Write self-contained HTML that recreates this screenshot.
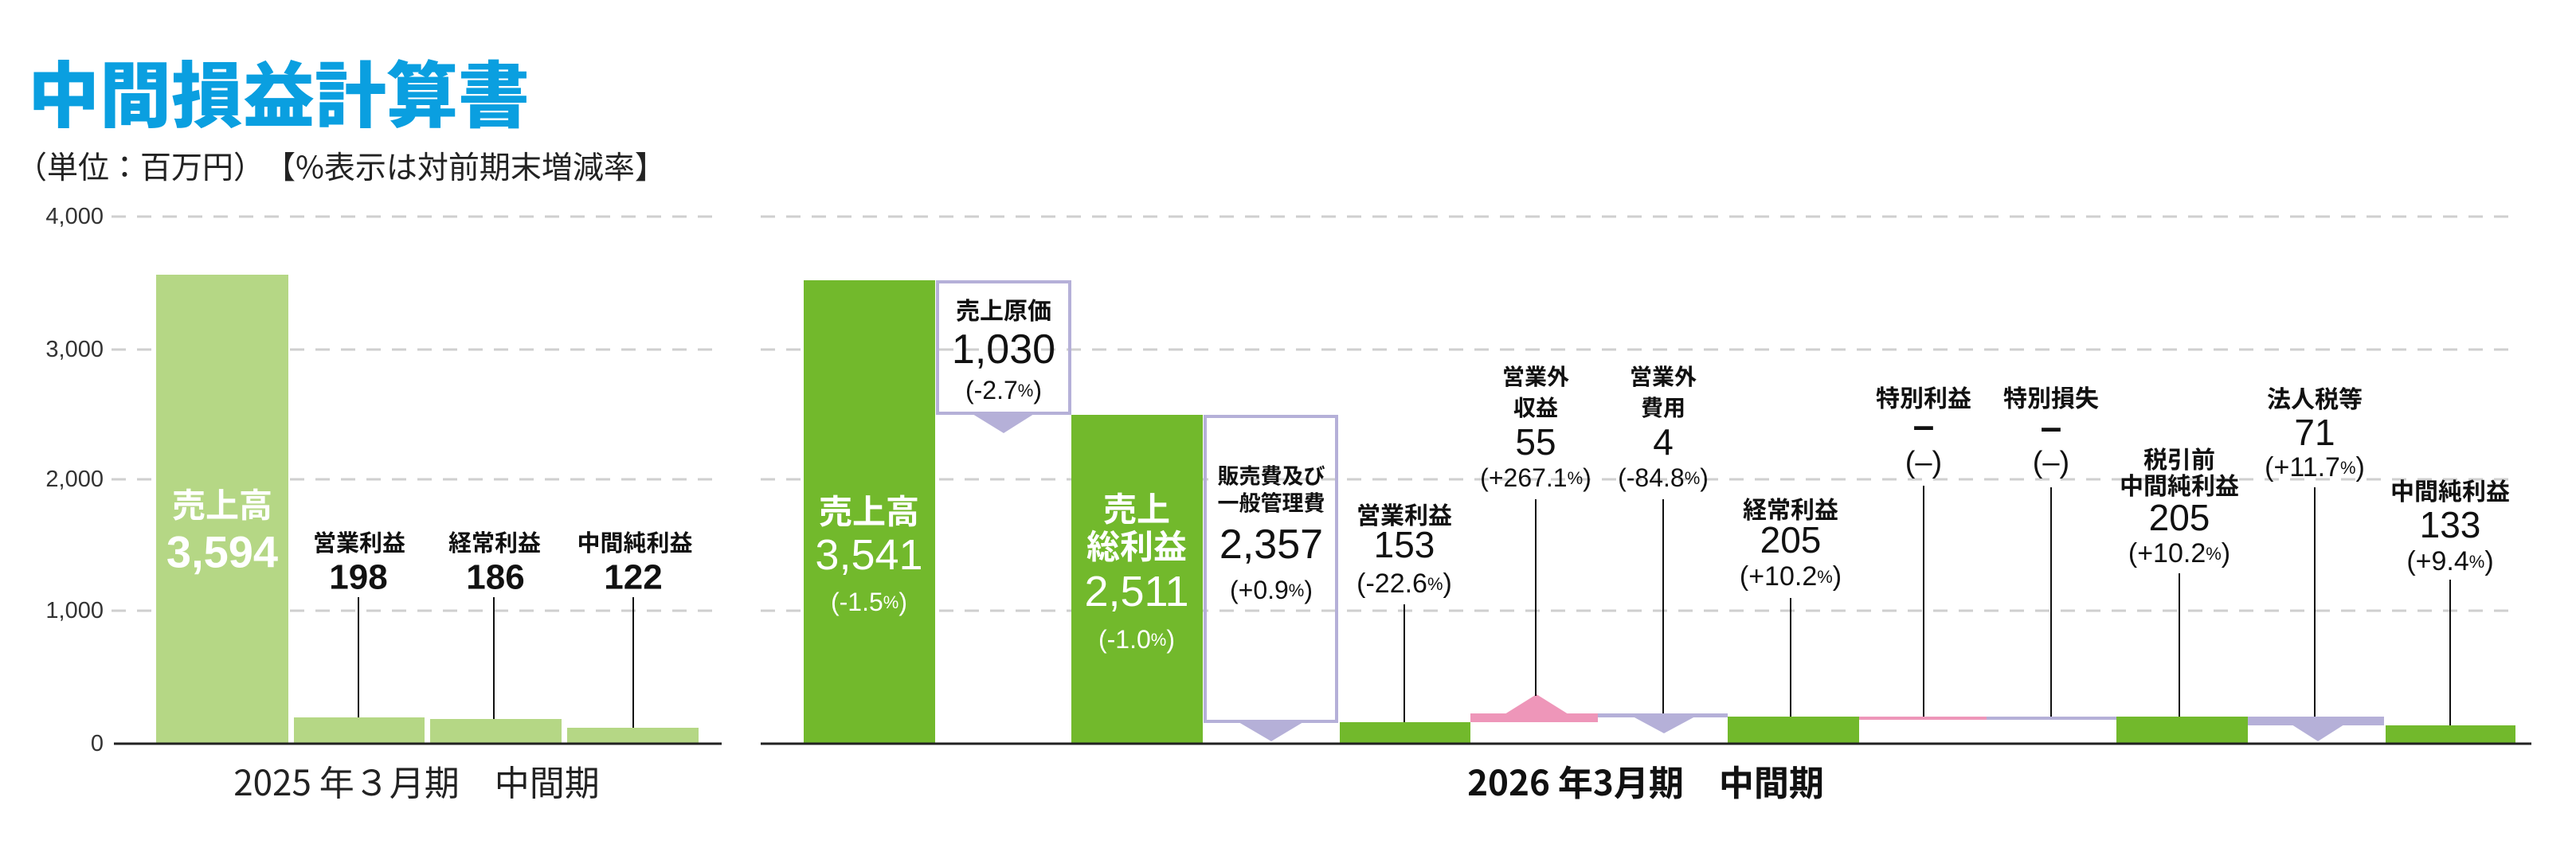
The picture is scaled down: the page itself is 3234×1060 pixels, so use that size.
<!DOCTYPE html>
<html><head><meta charset="utf-8"><style>
html,body{margin:0;padding:0;background:#fff;}
svg{display:block;}
text{font-family:"Liberation Sans","Noto Sans CJK JP",sans-serif;}
.j{font-family:"Noto Sans CJK JP","Liberation Sans",sans-serif;}
</style></head><body>
<svg width="3234" height="1060" viewBox="0 0 3234 1060" xmlns="http://www.w3.org/2000/svg">
<text x="35" y="113" class="j" font-size="90" font-weight="900" fill="#0a9fe0" dominant-baseline="central">中間損益計算書</text>
<text x="20" y="208" class="j" font-size="39" fill="#222" dominant-baseline="central">（単位：百万円）　【%表示は対前期末増減率】</text>

<g font-size="29" fill="#333" text-anchor="end" dominant-baseline="central">
<text x="130" y="272">4,000</text><text x="130" y="439">3,000</text><text x="130" y="602">2,000</text><text x="130" y="767">1,000</text><text x="130" y="934">0</text>
</g>
<g stroke="#cfcfcf" stroke-width="3" stroke-dasharray="18,14">
<line x1="140" y1="272" x2="906" y2="272"/><line x1="140" y1="439" x2="906" y2="439"/><line x1="140" y1="602" x2="906" y2="602"/><line x1="140" y1="767" x2="906" y2="767"/>
<line x1="955" y1="272" x2="3163" y2="272"/><line x1="955" y1="439" x2="3163" y2="439"/><line x1="955" y1="602" x2="3163" y2="602"/><line x1="955" y1="767" x2="3163" y2="767"/>
</g>

<!-- left chart -->
<g fill="#b5d785">
<rect x="196" y="345" width="166" height="589"/>
<rect x="369" y="901" width="164" height="33"/>
<rect x="540" y="903" width="165" height="31"/>
<rect x="712" y="914" width="165" height="20"/>
</g>
<g stroke="#111" stroke-width="2">
<line x1="450" y1="750" x2="450" y2="901"/><line x1="620" y1="750" x2="620" y2="903"/><line x1="795" y1="750" x2="795" y2="914"/>
</g>
<text x="279" y="632" class="j" font-size="42" font-weight="700" fill="#fff" text-anchor="middle" dominant-baseline="central">売上高</text>
<text x="279" y="693" font-size="56" font-weight="700" fill="#fff" text-anchor="middle" dominant-baseline="central">3,594</text>
<g class="j" font-size="29" font-weight="700" fill="#111" text-anchor="middle" dominant-baseline="central">
<text x="451" y="683">営業利益</text><text x="621" y="683">経常利益</text><text x="797" y="683">中間純利益</text>
</g>
<g font-size="44" font-weight="700" fill="#111" text-anchor="middle" dominant-baseline="central">
<text x="450" y="725">198</text><text x="622" y="725">186</text><text x="795" y="725">122</text>
</g>
<line x1="143" y1="934" x2="906" y2="934" stroke="#222" stroke-width="3"/>
<text x="523" y="980" class="j" font-size="44" fill="#222" text-anchor="middle" dominant-baseline="central">2025 年３月期　中間期</text>

<!-- right chart -->
<g fill="#72b92c">
<rect x="1009" y="352" width="165" height="582"/>
<rect x="1345" y="521" width="165" height="413"/>
<rect x="1682" y="907" width="164" height="27"/>
<rect x="2169" y="900" width="165" height="34"/>
<rect x="2657" y="900" width="165" height="34"/>
<rect x="2995" y="911" width="163" height="23"/>
</g>
<g fill="none" stroke="#b5b0d8" stroke-width="4">
<rect x="1177" y="354" width="166" height="165"/>
<rect x="1513" y="523" width="165" height="383"/>
</g>
<g fill="#b5b0d8">
<polygon points="1221,520 1298,520 1260,544"/>
<polygon points="1555,907 1636,907 1596,931"/>
<rect x="2006" y="896" width="163" height="5"/>
<polygon points="2050,900 2128,900 2089,921"/>
<rect x="2494" y="900" width="163" height="4"/>
<rect x="2822" y="900" width="171" height="11"/>
<polygon points="2877,910 2943,910 2910,931"/>
</g>
<g fill="#ee96b9">
<rect x="1846" y="896" width="160" height="11"/>
<polygon points="1889,897 1969,897 1929,872"/>
<rect x="2334" y="900" width="160" height="4"/>
</g>
<g stroke="#111" stroke-width="2">
<line x1="1763" y1="759" x2="1763" y2="907"/>
<line x1="1928" y1="627" x2="1928" y2="874"/>
<line x1="2088" y1="627" x2="2088" y2="896"/>
<line x1="2248" y1="751" x2="2248" y2="900"/>
<line x1="2415" y1="610" x2="2415" y2="900"/>
<line x1="2575" y1="612" x2="2575" y2="900"/>
<line x1="2736" y1="720" x2="2736" y2="900"/>
<line x1="2906" y1="612" x2="2906" y2="900"/>
<line x1="3076" y1="728" x2="3076" y2="911"/>
</g>
<g fill="#fff" text-anchor="middle" dominant-baseline="central">
<text x="1091" y="640" class="j" font-size="42" font-weight="700">売上高</text>
<text x="1091" y="697" font-size="54">3,541</text>
<text x="1091" y="756" font-size="32">(-1.5<tspan font-size="22">%</tspan>)</text>
<text x="1427" y="637" class="j" font-size="42" font-weight="700">売上</text>
<text x="1427" y="684" class="j" font-size="42" font-weight="700">総利益</text>
<text x="1427" y="743" font-size="54">2,511</text>
<text x="1427" y="803" font-size="32">(-1.0<tspan font-size="22">%</tspan>)</text>
</g>
<g fill="#111" text-anchor="middle" dominant-baseline="central">
<text x="1260" y="388" class="j" font-size="30" font-weight="700">売上原価</text>
<text x="1260" y="439" font-size="52">1,030</text>
<text x="1260" y="490" font-size="32">(-2.7<tspan font-size="22">%</tspan>)</text>
<text x="1596" y="596" class="j" font-size="27" font-weight="700">販売費及び</text>
<text x="1596" y="630" class="j" font-size="27" font-weight="700">一般管理費</text>
<text x="1596" y="684" font-size="52">2,357</text>
<text x="1596" y="741" font-size="32">(+0.9<tspan font-size="22">%</tspan>)</text>
<text x="1763" y="645" class="j" font-size="30" font-weight="700">営業利益</text>
<text x="1763" y="684" font-size="46">153</text>
<text x="1763" y="733" font-size="34">(-22.6<tspan font-size="22">%</tspan>)</text>
<text x="1928" y="472" class="j" font-size="28" font-weight="700">営業外</text>
<text x="1928" y="511" class="j" font-size="28" font-weight="700">収益</text>
<text x="1928" y="555" font-size="46">55</text>
<text x="1928" y="600" font-size="32">(+267.1<tspan font-size="22">%</tspan>)</text>
<text x="2088" y="472" class="j" font-size="28" font-weight="700">営業外</text>
<text x="2088" y="511" class="j" font-size="28" font-weight="700">費用</text>
<text x="2088" y="555" font-size="46">4</text>
<text x="2088" y="600" font-size="32">(-84.8<tspan font-size="22">%</tspan>)</text>
<text x="2248" y="638" class="j" font-size="30" font-weight="700">経常利益</text>
<text x="2248" y="678" font-size="46">205</text>
<text x="2248" y="724" font-size="34">(+10.2<tspan font-size="22">%</tspan>)</text>
<text x="2415" y="498" class="j" font-size="30" font-weight="700">特別利益</text>
<text x="2415" y="535" font-size="48" font-weight="700">–</text>
<text x="2415" y="581" font-size="38">(–)</text>
<text x="2575" y="498" class="j" font-size="30" font-weight="700">特別損失</text>
<text x="2575" y="537" font-size="48" font-weight="700">–</text>
<text x="2575" y="581" font-size="38">(–)</text>
<text x="2736" y="575" class="j" font-size="30" font-weight="700">税引前</text>
<text x="2736" y="608" class="j" font-size="30" font-weight="700">中間純利益</text>
<text x="2736" y="650" font-size="46">205</text>
<text x="2736" y="695" font-size="34">(+10.2<tspan font-size="22">%</tspan>)</text>
<text x="2906" y="499" class="j" font-size="30" font-weight="700">法人税等</text>
<text x="2906" y="543" font-size="46">71</text>
<text x="2906" y="587" font-size="34">(+11.7<tspan font-size="22">%</tspan>)</text>
<text x="3076" y="615" class="j" font-size="30" font-weight="700">中間純利益</text>
<text x="3076" y="659" font-size="46">133</text>
<text x="3076" y="705" font-size="34">(+9.4<tspan font-size="22">%</tspan>)</text>
</g>
<line x1="955" y1="934" x2="3178" y2="934" stroke="#222" stroke-width="3"/>
<text x="2066" y="980" class="j" font-size="44" font-weight="700" fill="#111" text-anchor="middle" dominant-baseline="central">2026 年3月期　中間期</text>
</svg>
</body></html>
